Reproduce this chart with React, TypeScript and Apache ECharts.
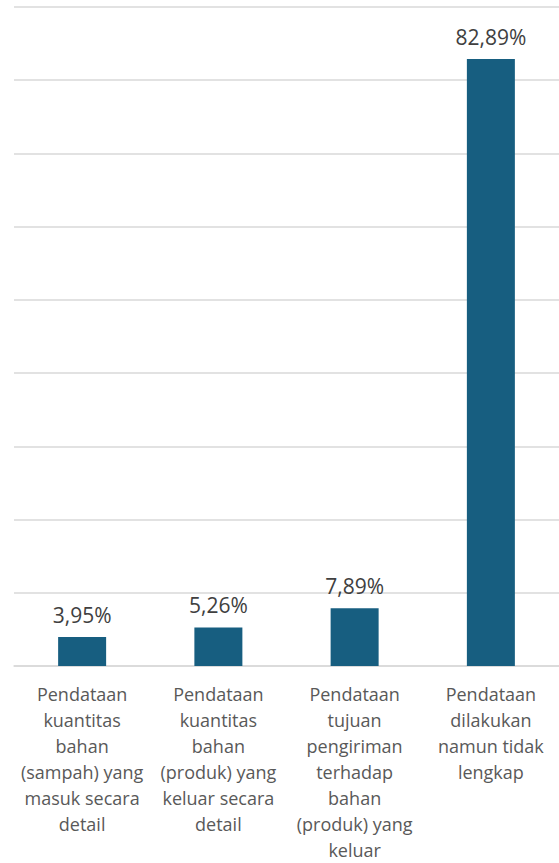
import React, { useEffect, useRef } from "react";
import * as echarts from "echarts";

const categories = [
  "Pendataan\nkuantitas\nbahan\n(sampah) yang\nmasuk secara\ndetail",
  "Pendataan\nkuantitas\nbahan\n(produk) yang\nkeluar secara\ndetail",
  "Pendataan\ntujuan\npengiriman\nterhadap\nbahan\n(produk) yang\nkeluar",
  "Pendataan\ndilakukan\nnamun tidak\nlengkap",
];
const values = [3.95, 5.26, 7.89, 82.89];

export default function App() {
  const ref = useRef<HTMLDivElement>(null);
  useEffect(() => {
    document.body.style.margin = "0";
    const chart = echarts.init(ref.current!, undefined, { renderer: "svg" });
    chart.setOption({
      animation: false,
      grid: { left: 14, right: 0, top: 7, bottom: 190, containLabel: false },
      xAxis: {
        type: "category",
        data: categories,
        axisLine: { show: true, lineStyle: { color: "#d9d9d9", width: 1.5 } },
        axisTick: { show: false },
        axisLabel: {
          interval: 0,
          margin: 15,
          color: "#595959",
          fontSize: 18,
          lineHeight: 26,
          fontFamily: "Open Sans",
        },
      },
      yAxis: {
        type: "value",
        min: 0,
        max: 90,
        interval: 10,
        axisLabel: { show: false },
        axisLine: { show: false },
        axisTick: { show: false },
        splitLine: { lineStyle: { color: "#d9d9d9", width: 1.5 } },
      },
      series: [
        {
          type: "bar",
          data: values,
          barWidth: 48,
          itemStyle: { color: "#175e80" },
          label: {
            show: true,
            position: "top",
            distance: 12,
            color: "#404040",
            fontSize: 21,
            fontFamily: "Open Sans",
            formatter: (p: any) => p.value.toFixed(2).replace(".", ",") + "%",
          },
        },
      ],
    });
    return () => chart.dispose();
  }, []);
  return <div ref={ref} style={{ width: 559, height: 863 }} />;
}
